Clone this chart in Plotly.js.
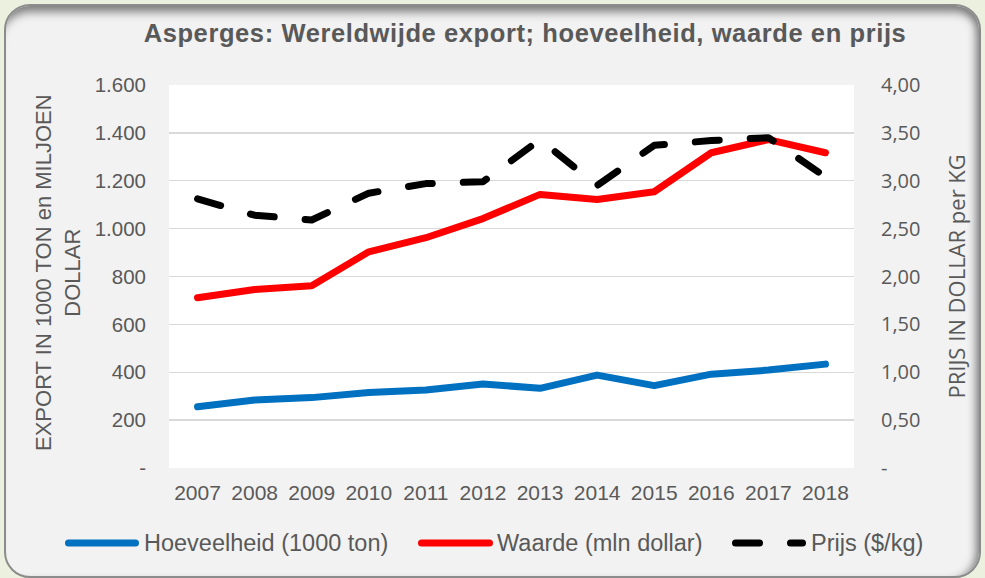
<!DOCTYPE html>
<html>
<head>
<meta charset="utf-8">
<script src="https://cdn.plot.ly/plotly-3.0.1.min.js"></script>
<style>
  html, body { margin:0; padding:0; }
  body { width:985px; height:578px; overflow:hidden; position:relative; background:#ebf1de; }
  #frame { position:absolute; left:4px; top:4px; width:973px; height:570px; background:#f2f2f2;
           border:2px solid #8c8c8c; border-radius:26px;
           box-shadow: inset 0 14px 10px -8px #7d7d7d, inset -9px 0 8px -6px #7d7d7d; }
  #chart { position:absolute; left:0; top:0; width:985px; height:578px; }
  #chart .gtitle { letter-spacing: 0.6px; }
</style>
</head>
<body>
<div id="frame"></div>
<div id="chart"></div>
<script>
// ---- data ----
const years = ['2007','2008','2009','2010','2011','2012','2013','2014','2015','2016','2017','2018'];
const hoeveelheid = [256, 284, 294, 315, 326, 351, 333, 388, 344, 392, 409, 434];
const waarde = [711, 746, 761, 903, 962, 1042, 1143, 1122, 1154, 1317, 1372, 1317];
const prijs = [2.81, 2.64, 2.59, 2.87, 2.97, 2.99, 3.43, 2.95, 3.37, 3.42, 3.45, 3.04];
const seriesNames = ['Hoeveelheid (1000 ton)', 'Waarde (mln dollar)', 'Prijs ($/kg)'];
const leftTickVals = [0, 200, 400, 600, 800, 1000, 1200, 1400, 1600];
const leftTickText = ['-', '200', '400', '600', '800', '1.000', '1.200', '1.400', '1.600'];
const rightTickVals = [0, 0.5, 1, 1.5, 2, 2.5, 3, 3.5, 4];
const rightTickText = ['-', '0,50', '1,00', '1,50', '2,00', '2,50', '3,00', '3,50', '4,00'];
const titleText = 'Asperges: Wereldwijde export; hoeveelheid, waarde en prijs';
const leftTitle = 'EXPORT IN 1000 TON en MILJOEN<br>DOLLAR';
const rightTitle = 'PRIJS IN DOLLAR per KG';

// ---- layout helpers ----
const W = 985, H = 578;
const PL = 169, PR = 854, PT = 85, PB = 468;
const px = x => (x - PL) / (PR - PL);
const py = y => (PB - y) / (PB - PT);
const grey = '#595959';
const arial = 'Liberation Sans, Arial, sans-serif';

const traces = [
  { x: years, y: hoeveelheid, name: seriesNames[0], type: 'scatter', mode: 'lines',
    line: { color: '#0070c0', width: 7 }, yaxis: 'y' },
  { x: years, y: waarde, name: seriesNames[1], type: 'scatter', mode: 'lines',
    line: { color: '#ff0000', width: 7 }, yaxis: 'y' },
  { x: years, y: prijs, name: seriesNames[2], type: 'scatter', mode: 'lines',
    line: { color: '#000000', width: 7, dash: '24px,31px' }, yaxis: 'y2' }
];

const legY = py(543);
const layout = {
  width: W, height: H,
  margin: { l: PL, r: W - PR, t: PT, b: H - PB, pad: 0 },
  paper_bgcolor: 'rgba(0,0,0,0)',
  plot_bgcolor: '#ffffff',
  showlegend: false,
  title: { text: titleText, x: 525 / W, xref: 'container', xanchor: 'center',
           y: 1 - 33 / H, yref: 'container', yanchor: 'middle',
           font: { family: arial, size: 25.5, weight: 700, color: grey } },
  xaxis: { type: 'category', range: [-0.5, 11.5], showgrid: false, zeroline: false, showline: false,
           ticks: '', ticklabelstandoff: 10,
           tickfont: { family: arial, size: 21, color: grey } },
  yaxis: { range: [0, 1600], tickvals: leftTickVals, ticktext: leftTickText,
           showgrid: true, gridcolor: '#d9d9d9', gridwidth: 1.3, zeroline: false, showline: false,
           ticks: '', ticklabelstandoff: 22,
           tickfont: { family: arial, size: 20.5, color: grey } },
  yaxis2: { range: [0, 4], overlaying: 'y', side: 'right', tickvals: rightTickVals, ticktext: rightTickText,
            showgrid: false, zeroline: false, showline: false, ticks: '', ticklabelstandoff: 26,
            tickfont: { family: 'Open Sans, sans-serif', size: 20, color: grey } },
  annotations: [
    { text: leftTitle, textangle: -90, xref: 'paper', yref: 'paper', x: px(57.5), y: py(272.5),
      xanchor: 'center', yanchor: 'middle', showarrow: false,
      font: { family: arial, size: 22, color: grey } },
    { text: rightTitle, textangle: -90, xref: 'paper', yref: 'paper', x: px(955), y: py(276.5),
      xanchor: 'center', yanchor: 'middle', showarrow: false,
      font: { family: 'Open Sans, sans-serif', size: 22, color: grey } },
    { text: seriesNames[0], xref: 'paper', yref: 'paper', x: px(142), y: legY, xanchor: 'left', yanchor: 'middle',
      showarrow: false, font: { family: arial, size: 23.5, color: grey } },
    { text: seriesNames[1], xref: 'paper', yref: 'paper', x: px(495), y: legY, xanchor: 'left', yanchor: 'middle',
      showarrow: false, font: { family: arial, size: 23.5, color: grey } },
    { text: seriesNames[2], xref: 'paper', yref: 'paper', x: px(809), y: legY, xanchor: 'left', yanchor: 'middle',
      showarrow: false, font: { family: arial, size: 23.5, color: grey } }
  ],
  shapes: [
    { type: 'line', xref: 'paper', yref: 'paper', x0: px(68.5), x1: px(135.5), y0: legY, y1: legY,
      line: { color: '#0070c0', width: 7 } },
    { type: 'line', xref: 'paper', yref: 'paper', x0: px(421.5), x1: px(489.5), y0: legY, y1: legY,
      line: { color: '#ff0000', width: 7 } },
    { type: 'line', xref: 'paper', yref: 'paper', x0: px(735.5), x1: px(802.5), y0: legY, y1: legY,
      line: { color: '#000000', width: 7, dash: '24px,31px' } }
  ]
};

Plotly.newPlot('chart', traces, layout, { staticPlot: true, displayModeBar: false }).then(gd => {
  gd.querySelectorAll('.scatterlayer path.js-line, .shapelayer path').forEach(p => {
    p.style.strokeLinecap = 'round';
    p.style.strokeLinejoin = 'round';
  });
});
</script>
</body>
</html>
